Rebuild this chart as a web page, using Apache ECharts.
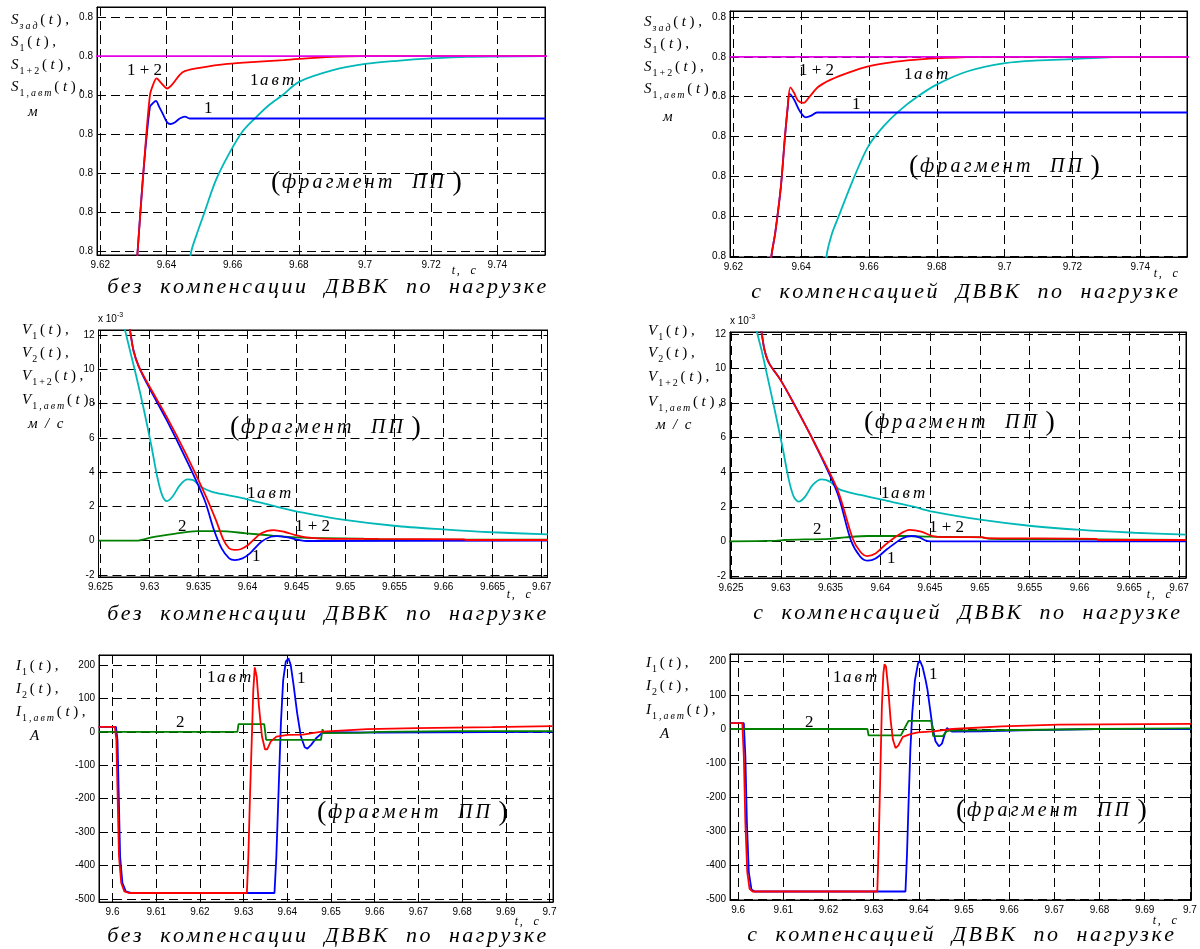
<!DOCTYPE html>
<html><head><meta charset="utf-8">
<script src="https://cdn.jsdelivr.net/npm/echarts@6/dist/echarts.min.js"></script>
<style>html,body{margin:0;padding:0;background:#fff}#c{width:1200px;height:949px}</style>
</head><body><div id="c"></div>
<script>
// ---------- tick values ----------
const sTicksX = [9.62, 9.64, 9.66, 9.68, 9.70, 9.72, 9.74];
const sTicksY = [0.7995, 0.7996, 0.7997, 0.7998, 0.7999, 0.8000, 0.8001];
const vTicksX = [9.625, 9.630, 9.635, 9.640, 9.645, 9.650, 9.655, 9.660, 9.665, 9.670];
const vTicksY = [-2, 0, 2, 4, 6, 8, 10, 12];
const iTicksX = [9.60, 9.61, 9.62, 9.63, 9.64, 9.65, 9.66, 9.67, 9.68, 9.69, 9.70];
const iTicksY = [-500, -400, -300, -200, -100, 0, 100, 200];

// ---------- S(t), without compensation ----------
const sA_zad = [[9.60, 0.8000], [9.76, 0.8000]];
const sA_12 = [[9.6300,0.79935],[9.6312,0.79949],[9.6330,0.79970],[9.6350,0.79990],[9.6361,0.79993],[9.6370,0.799943],[9.6385,0.79993],[9.6402,0.799917],[9.6420,0.79993],[9.6440,0.799952],[9.6457,0.799962],[9.6500,0.79997],[9.6584,0.79998],[9.6680,0.799986],[9.6755,0.79999],[9.6900,0.799998],[9.7000,0.8000],[9.7544,0.8000]];
const sA_1 = [[9.6300,0.79935],[9.6312,0.79949],[9.6330,0.79970],[9.6350,0.79987],[9.6360,0.79988],[9.6368,0.799885],[9.6378,0.79987],[9.6390,0.79985],[9.6402,0.79983],[9.6412,0.799826],[9.6425,0.79983],[9.6440,0.79984],[9.6456,0.799845],[9.6470,0.79984],[9.7544,0.79984]];
const sA_1avt = [[9.6460,0.79930],[9.64728,0.79949],[9.64922,0.799545],[9.65151,0.79960],[9.65493,0.799682],[9.65893,0.79975],[9.66292,0.799806],[9.66669,0.79984],[9.67091,0.799874],[9.67491,0.799899],[9.68005,0.799934],[9.69032,0.799964],[9.70002,0.79998],[9.70973,0.799988],[9.7200,0.799994],[9.73085,0.799998],[9.7544,0.8000]];

// ---------- S(t), with compensation ----------
const sB_zad = [[9.60, 0.8000], [9.76, 0.8000]];
const sB_12 = [[9.6300,0.79935],[9.6312,0.799498],[9.63233,0.799557],[9.63401,0.799674],[9.63513,0.799791],[9.63602,0.799875],[9.63681,0.799923],[9.63793,0.799909],[9.63905,0.79989],[9.64073,0.799884],[9.64241,0.799899],[9.64498,0.799924],[9.64857,0.799942],[9.65417,0.799961],[9.65977,0.799976],[9.6665,0.799986],[9.67322,0.799992],[9.68218,0.799997],[9.6934,0.8000],[9.7538,0.8000]];
const sB_1 = [[9.6300,0.79935],[9.6312,0.799498],[9.63233,0.799557],[9.63401,0.799674],[9.63513,0.799791],[9.63600,0.79987],[9.63658,0.799907],[9.63793,0.799892],[9.63961,0.799863],[9.64129,0.799848],[9.64297,0.799852],[9.64465,0.79986],[9.7538,0.79986]];
const sB_1avt = [[9.6460,0.79930],[9.64745,0.799498],[9.64913,0.799557],[9.65104,0.799599],[9.65529,0.799691],[9.65977,0.799775],[9.66426,0.799825],[9.66874,0.799863],[9.67434,0.79990],[9.67994,0.79993],[9.68891,0.799963],[9.70011,0.799984],[9.7102,0.799991],[9.72028,0.799994],[9.73597,0.8000],[9.7538,0.8000]];

// ---------- V(t) x1e-3, without compensation ----------
const vA_1avt = [[9.6270,13.4],[9.62751,12.27],[9.62809,10.91],[9.62867,9.55],[9.62944,7.61],[9.63021,5.48],[9.63079,3.73],[9.63129,2.66],[9.63176,2.31],[9.63234,2.56],[9.63311,3.24],[9.63388,3.57],[9.63446,3.53],[9.63523,3.15],[9.63639,2.85],[9.63793,2.66],[9.63986,2.43],[9.64257,2.04],[9.64566,1.63],[9.64952,1.24],[9.65492,0.87],[9.65994,0.66],[9.66496,0.49],[9.67064,0.37]];
const vA_12 = [[9.6276,13.3],[9.62801,12.27],[9.62836,11.11],[9.62886,10.23],[9.62983,9.17],[9.63176,7.22],[9.63369,5.09],[9.63562,2.76],[9.63678,1.20],[9.63755,0.04],[9.63813,-0.45],[9.63871,-0.54],[9.63929,-0.50],[9.64006,-0.25],[9.64141,0.43],[9.64265,0.62],[9.64373,0.52],[9.64488,0.33],[9.64604,0.19],[9.64759,0.12],[9.65338,0.10],[9.66207,0.08],[9.66226,0.04],[9.67064,0.04]];
const vA_1 = [[9.6276,13.3],[9.62801,12.27],[9.62836,11.11],[9.62886,10.23],[9.62983,9.07],[9.63176,7.03],[9.63369,4.80],[9.63562,2.37],[9.63658,0.62],[9.63736,-0.45],[9.63813,-1.03],[9.63871,-1.13],[9.63948,-1.03],[9.64025,-0.74],[9.64141,-0.06],[9.64237,0.23],[9.64295,0.27],[9.64411,0.19],[9.64527,0.04],[9.64604,-0.02],[9.67064,0.0]];
const vA_2 = [[9.6248,0],[9.62867,0],[9.63021,0.19],[9.63253,0.39],[9.63485,0.56],[9.63716,0.56],[9.63986,0.43],[9.64257,0.29],[9.64488,0.19],[9.64759,0.14],[9.65184,0.12],[9.65203,0.08],[9.67064,0.06]];

// ---------- V(t) x1e-3, with compensation ----------
const vB_1avt = [[9.6272,13.3],[9.6276,12.15],[9.62806,11.09],[9.62851,9.93],[9.62939,7.61],[9.63016,5.49],[9.63081,3.56],[9.6313,2.59],[9.6318,2.30],[9.63245,2.59],[9.63321,3.27],[9.63409,3.59],[9.63493,3.46],[9.63589,3.01],[9.63799,2.69],[9.64104,2.30],[9.64333,2.01],[9.64524,1.72],[9.65021,1.24],[9.65518,0.89],[9.66014,0.66],[9.66549,0.50],[9.67072,0.39]];
const vB_12 = [[9.6277,13.3],[9.62806,12.15],[9.62836,11.09],[9.62882,10.32],[9.62997,9.35],[9.63111,8.19],[9.6334,5.68],[9.6357,2.98],[9.63722,0.17],[9.63799,-0.60],[9.63867,-0.85],[9.63952,-0.70],[9.64047,-0.21],[9.64181,0.37],[9.64295,0.66],[9.6441,0.56],[9.64524,0.31],[9.64639,0.25],[9.65021,0.25],[9.65059,0.19],[9.66167,0.15],[9.66186,0.08],[9.67072,0.08]];
const vB_1 = [[9.6277,13.3],[9.62806,12.15],[9.62836,11.09],[9.62882,10.32],[9.62997,9.35],[9.63111,8.19],[9.6334,5.68],[9.6357,2.78],[9.63703,0.08],[9.63799,-0.89],[9.63875,-1.12],[9.63952,-0.99],[9.64066,-0.46],[9.64219,0.17],[9.64314,0.31],[9.6439,0.23],[9.64456,0.04],[9.64505,0],[9.67072,0]];
const vB_2 = [[9.6248,0],[9.62958,0.04],[9.63035,0.08],[9.63493,0.15],[9.63646,0.23],[9.63875,0.31],[9.64257,0.31],[9.64486,0.27],[9.65021,0.23],[9.65097,0.15],[9.66167,0.12],[9.67072,0.08]];

// ---------- I(t), without compensation ----------
const iA_1avt = [[9.5968,15],[9.60052,15],[9.60087,-24],[9.60113,-173],[9.60147,-372],[9.60199,-452],[9.60268,-477],[9.60372,-482],[9.63074,-482],[9.63108,-372],[9.63143,-203],[9.63186,-24],[9.63221,125],[9.63255,193],[9.63299,165],[9.63351,76],[9.6342,-14],[9.63489,-52],[9.63541,-52],[9.63619,-29],[9.63749,-14],[9.64009,-9],[9.64355,-8],[9.64788,1],[9.65221,4],[9.65827,8],[9.66952,11],[9.68684,14],[9.70069,17]];
const iA_1 = [[9.5968,15],[9.60078,15],[9.60113,-24],[9.60139,-173],[9.60173,-372],[9.60225,-452],[9.60303,-477],[9.60416,-482],[9.63706,-482],[9.63749,-372],[9.63801,-173],[9.63853,26],[9.63905,155],[9.63965,210],[9.64026,220],[9.64078,200],[9.64138,145],[9.64225,56],[9.64311,-14],[9.64398,-46],[9.64459,-50],[9.64545,-39],[9.64658,-19],[9.64788,-4],[9.64961,-1],[9.66087,-2],[9.70069,0]];
const iA_2 = [[9.5968,0],[9.62857,0],[9.62883,23],[9.63472,23],[9.63515,-24],[9.6477,-24],[9.64805,8],[9.64839,-4],[9.65653,-3],[9.66087,0],[9.67818,2],[9.70069,2]];

// ---------- I(t), with compensation ----------
const iB_1avt = [[9.59832,17],[9.60093,17],[9.60126,-80],[9.6016,-275],[9.60202,-421],[9.60253,-470],[9.6032,-478],[9.63081,-478],[9.63114,-324],[9.63148,-129],[9.63182,66],[9.63215,164],[9.63241,191],[9.63274,183],[9.63325,115],[9.63375,27],[9.63426,-31],[9.63485,-56],[9.63544,-49],[9.63645,-23],[9.63813,-15],[9.63982,-10],[9.64318,-7],[9.64739,0],[9.65833,8],[9.67096,13],[9.70025,15]];
const iB_1 = [[9.59832,17],[9.60126,17],[9.6016,-80],[9.60194,-275],[9.60236,-421],[9.60295,-472],[9.60362,-478],[9.63704,-478],[9.63737,-373],[9.63771,-226],[9.63813,-60],[9.63855,47],[9.63914,144],[9.63982,193],[9.64024,201],[9.64082,183],[9.6415,144],[9.64192,115],[9.64251,57],[9.64301,8],[9.64369,-36],[9.64444,-51],[9.64512,-43],[9.64571,-17],[9.64621,3],[9.64672,-2],[9.64739,-8],[9.65412,-7],[9.66254,-4],[9.67938,0],[9.70025,0]];
const iB_2 = [[9.59832,0],[9.62862,0],[9.62887,-19],[9.63603,-19],[9.63687,3],[9.63771,24],[9.64276,24],[9.64318,-21],[9.64529,-21],[9.64613,-7],[9.64672,-5],[9.66254,-3],[9.67938,0],[9.70025,2]];

// ---------- texts ----------
const capNo = 'без  компенсации  ДВВК  по  нагрузке';
const capYes = 'с  компенсацией  ДВВК  по  нагрузке';
const fragText = 'фрагмент  ПП';

// ---------- layout & style ----------
const SERIF = '"Liberation Serif","DejaVu Serif",serif';
const SANS = '"Liberation Sans",Arial,sans-serif';
const C = {red:'#ff0000', blue:'#0000ff', cyan:'#00b8b8', green:'#008000', mag:'#e600e6'};

const grids = [
  {left:97, top:7, width:448, height:248},
  {left:730, top:11, width:457, height:246},
  {left:98.5, top:330, width:449, height:247},
  {left:730, top:332, width:456, height:246},
  {left:99, top:655, width:454, height:247},
  {left:730, top:654, width:461, height:246}
];
const ranges = [
  {x:[9.619,9.7544], y:[0.79949,0.800126], tx:sTicksX, ty:sTicksY, fy:v=>(+v).toFixed(1)},
  {x:[9.619,9.7538], y:[0.799497,0.800115], tx:sTicksX, ty:sTicksY, fy:v=>(+v).toFixed(1)},
  {x:[9.6248,9.6706], y:[-2.12,12.29], tx:vTicksX, ty:vTicksY, fy:v=>String(v)},
  {x:[9.6249,9.6707], y:[-2.12,12.12], tx:vTicksX, ty:vTicksY, fy:v=>String(v)},
  {x:[9.5969,9.7008], y:[-509,230], tx:iTicksX, ty:iTicksY, fy:v=>String(v)},
  {x:[9.5982,9.70025], y:[-503,220.6], tx:iTicksX, ty:iTicksY, fy:v=>String(v)}
];
const dash = {color:'#000', type:[9,5], width:1};
const xAxes = [], yAxes = [];
ranges.forEach((r,i)=>{
  xAxes.push({
    type:'value', gridIndex:i, min:r.x[0], max:r.x[1], position:'bottom',
    axisLine:{show:true, onZero:false, lineStyle:{color:'#000', width:1}},
    axisTick:{show:true, inside:true, length:4, customValues:r.tx, lineStyle:{color:'#000'}},
    axisLabel:{customValues:r.tx, color:'#000', fontFamily:SANS, fontSize:10, margin:5,
      formatter:v=>String(+(+v).toFixed(3))},
    splitLine:{show:true, lineStyle:dash}
  });
  yAxes.push({
    type:'value', gridIndex:i, min:r.y[0], max:r.y[1], position:'left',
    axisLine:{show:true, onZero:false, lineStyle:{color:'#000', width:1}},
    axisTick:{show:true, inside:true, length:4, customValues:r.ty, lineStyle:{color:'#000'}},
    axisLabel:{customValues:r.ty, color:'#000', fontFamily:SANS, fontSize:10, margin:4, formatter:r.fy},
    splitLine:{show:true, lineStyle:dash}
  });
});
ranges.forEach((r,i)=>{
  xAxes.push({
    type:'value', gridIndex:i, min:r.x[0], max:r.x[1], position:'top',
    axisLine:{show:true, onZero:false, lineStyle:{color:'#000', width:1}},
    axisTick:{show:true, inside:true, length:4, customValues:r.tx, lineStyle:{color:'#000'}},
    axisLabel:{show:false}, splitLine:{show:false}
  });
  yAxes.push({
    type:'value', gridIndex:i, min:r.y[0], max:r.y[1], position:'right',
    axisLine:{show:true, onZero:false, lineStyle:{color:'#000', width:1}},
    axisTick:{show:true, inside:true, length:4, customValues:r.ty, lineStyle:{color:'#000'}},
    axisLabel:{show:false}, splitLine:{show:false}
  });
});

function L(gi, data, color, smooth) {
  return {type:'line', xAxisIndex:gi, yAxisIndex:gi, data, showSymbol:false, symbol:'none',
    lineStyle:{color, width:1.8}, smooth: smooth ? 0.3 : false,
    clip:true, animation:false, silent:true};
}
const series = [
  L(0,sA_1avt,C.cyan,true), L(0,sA_1,C.blue,true), L(0,sA_12,C.red,true), L(0,sA_zad,C.mag,false),
  L(1,sB_1avt,C.cyan,true), L(1,sB_1,C.blue,true), L(1,sB_12,C.red,true), L(1,sB_zad,C.mag,false),
  L(2,vA_1avt,C.cyan,true), L(2,vA_2,C.green,true), L(2,vA_1,C.blue,true), L(2,vA_12,C.red,true),
  L(3,vB_1avt,C.cyan,true), L(3,vB_2,C.green,true), L(3,vB_1,C.blue,true), L(3,vB_12,C.red,true),
  L(4,iA_1,C.blue,false), L(4,iA_2,C.green,false), L(4,iA_1avt,C.red,false),
  L(5,iB_1,C.blue,false), L(5,iB_2,C.green,false), L(5,iB_1avt,C.red,false)
];

// ---------- text helpers ----------
const RICH = {
  i:{fontFamily:SERIF, fontSize:15, fontStyle:'italic', fill:'#000', lineHeight:22},
  it:{fontFamily:SERIF, fontSize:15, fontStyle:'italic', fill:'#000', lineHeight:22, padding:[0,1.8,0,1.8]},
  n:{fontFamily:SERIF, fontSize:15, fill:'#000', lineHeight:22, padding:[0,1.8,0,1.8]},
  s:{fontFamily:SERIF, fontSize:10, fontStyle:'italic', fill:'#000', lineHeight:12, verticalAlign:'bottom', padding:[0,1,0,1]},
  sn:{fontFamily:SERIF, fontSize:10, fill:'#000', lineHeight:12, verticalAlign:'bottom', padding:[0,1,0,1]},
  li:{fontFamily:SERIF, fontSize:17, fontStyle:'italic', fill:'#000', lineHeight:22, padding:[0,1.5,0,1.5]},
  ln:{fontFamily:SERIF, fontSize:17, fill:'#000', lineHeight:22},
  p:{fontFamily:SERIF, fontSize:28, fill:'#000', lineHeight:32},
  f:{fontFamily:SERIF, fontSize:20, fontStyle:'italic', fill:'#000', lineHeight:32, padding:[0,1.6,0,1.6]},
  cap:{fontFamily:SERIF, fontSize:22, fontStyle:'italic', fill:'#000', lineHeight:26, padding:[0,1.25,0,1.25]},
  tc:{fontFamily:SERIF, fontSize:12, fontStyle:'italic', fill:'#000', lineHeight:14, padding:[0,0.8,0,0.8]},
  ax:{fontFamily:SANS, fontSize:10, fill:'#000', lineHeight:14},
  sup:{fontFamily:SANS, fontSize:7, fill:'#000', lineHeight:14, verticalAlign:'top'}
};
// split a string into per-letter rich tokens (adds letter spacing via padding)
function sp(str, style) {
  return str.split('').map(c => '{' + style + '|' + c + '}').join('');
}
function T(x, y, text) {
  const st = {text, fill:'#000', rich:RICH, align:'left', verticalAlign:'middle', textAlign:'left', textVerticalAlign:'middle'};
  return {type:'text', x, y, silent:true, z:100, style:st};
}
function yBlock(x, ys, sym, subs, unit, ux, uy) {
  const out = ys.map((y,k)=>T(x, y, '{i|'+sym+'}'+subs[k]+'{n|(}{it|t}{n|)}{n|,}'));
  out.push(T(ux, uy, '{i|'+unit+'}'));
  return out;
}
const subsS = [sp('зад','s'), sp('1','sn'), sp('1+2','sn'), sp('1,','sn')+sp('авт','s')];
const subsV = [sp('1','sn'), sp('2','sn'), sp('1+2','sn'), sp('1,','sn')+sp('авт','s')];
const subsI = [sp('1','sn'), sp('2','sn'), sp('1,','sn')+sp('авт','s')];
const frag = '{p|(}' + sp(fragText, 'f') + '{p| )}';
const avt = '{ln|1}' + sp('авт', 'li');
const tc = sp('t,  c', 'tc');
const cNo = sp(capNo, 'cap'), cYes = sp(capYes, 'cap');

const graphics = [
  // top-left
  ...yBlock(11, [20,42,65,87], 'S', subsS, 'м', 28, 112),
  T(127, 71, '{ln|1 + 2}'), T(250, 81, avt), T(204, 109, '{ln|1}'),
  T(271, 183, frag), T(451, 271, tc), T(106, 287, cNo),
  // top-right
  ...yBlock(644, [22,44,67,89], 'S', subsS, 'м', 663, 117),
  T(799, 71, '{ln|1 + 2}'), T(904, 75, avt), T(852, 105, '{ln|1}'),
  T(909, 167, frag), T(1153, 274, tc), T(750, 292, cYes),
  // middle-left
  T(98, 319, '{ax|x 10}{sup|-3}'),
  ...yBlock(22, [330,353,376,400], 'V', subsV, 'м  /  с', 28, 424),
  T(230, 428, frag), T(247, 494, avt), T(178, 527, '{ln|2}'), T(295, 527, '{ln|1 + 2}'),
  T(252, 557, '{ln|1}'), T(506, 595, tc), T(106, 614, cNo),
  // middle-right
  T(730, 321, '{ax|x 10}{sup|-3}'),
  ...yBlock(648, [331,353,377,402], 'V', subsV, 'м  /  с', 656, 425),
  T(864, 423, frag), T(881, 494, avt), T(813, 530, '{ln|2}'), T(929, 528, '{ln|1 + 2}'),
  T(887, 559, '{ln|1}'), T(1146, 595, tc), T(752, 613, cYes),
  // bottom-left
  ...yBlock(16, [666,689,712], 'I', subsI, 'A', 30, 736),
  T(207, 678, avt), T(297, 679, '{ln|1}'), T(176, 723, '{ln|2}'),
  T(317, 813, frag), T(514, 922, tc), T(106, 936, cNo),
  // bottom-right
  ...yBlock(646, [663,686,710], 'I', subsI, 'A', 660, 734),
  T(833, 678, avt), T(929, 675, '{ln|1}'), T(805, 723, '{ln|2}'),
  T(956, 811, frag), T(1152, 921, tc), T(746, 935, cYes)
];

const chart = echarts.init(document.getElementById('c'), null, {renderer:'canvas', width:1200, height:949});
chart.setOption({
  animation:false,
  backgroundColor:'#fff',
  grid: grids.map(g=>Object.assign({show:true, borderColor:'#000', borderWidth:1, backgroundColor:'#fff'}, g)),
  xAxis: xAxes, yAxis: yAxes, series, graphic: graphics
});
</script></body></html>
